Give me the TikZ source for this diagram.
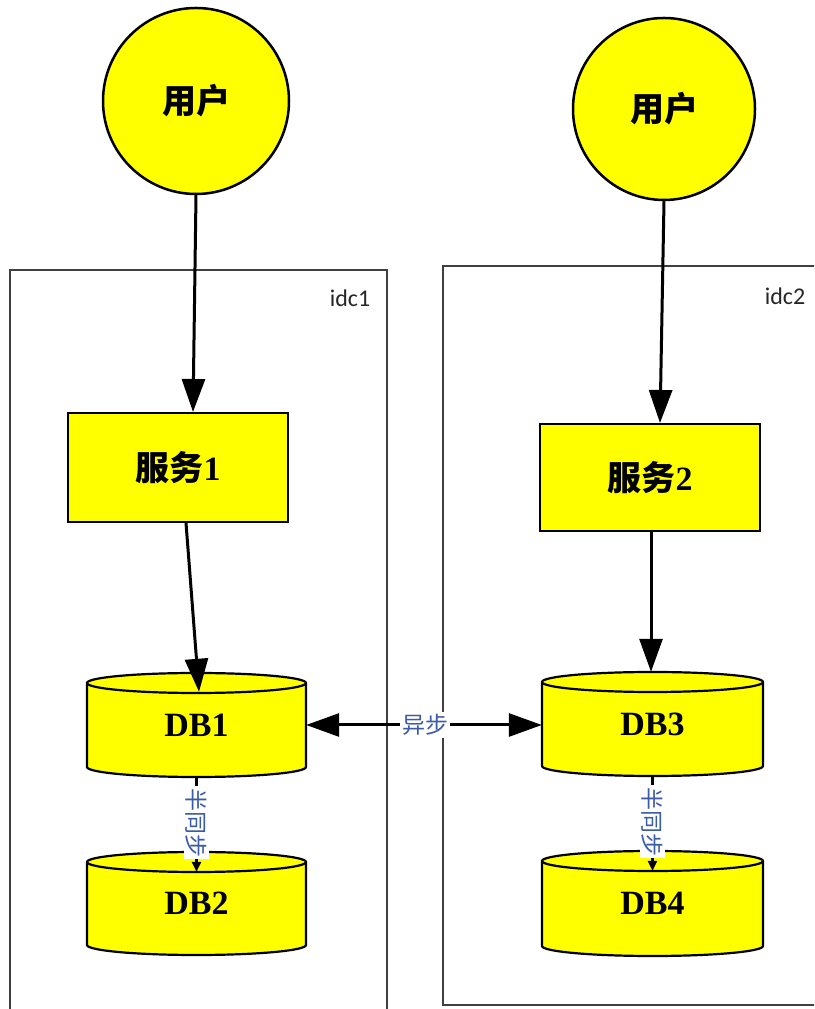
\documentclass[tikz,border=0pt]{standalone}
\usepackage{fontspec}
\setmainfont{Liberation Serif}
\newfontfamily\cjk{Noto Sans CJK SC}
\newfontfamily\lab{Carlito}
\usetikzlibrary{arrows.meta}
\definecolor{fillyel}{RGB}{255,255,0}
\definecolor{labblue}{RGB}{59,91,165}
\definecolor{framegray}{RGB}{64,64,64}

% database cylinder: name, centre x, centre y, width, height, label
\newcommand\dbcyl[6]{%
  \filldraw[cylline] (#2-#4/2,#3+#5/2-10) -- (#2-#4/2,#3-#5/2+10)
    arc[start angle=180,end angle=360,x radius=#4/2,y radius=10]
    -- (#2+#4/2,#3+#5/2-10)
    arc[start angle=0,end angle=180,x radius=#4/2,y radius=10] -- cycle;
  \draw[cylline] (#2-#4/2,#3+#5/2-10)
    arc[start angle=180,end angle=360,x radius=#4/2,y radius=10];
  \node[dbtext, minimum width=#4, minimum height=#5] (#1) at (#2,#3) {#6};
}

\begin{document}
\begin{tikzpicture}[x=1pt,y=1pt,
  usernode/.style={circle, draw, line width=2.5pt, fill=fillyel, inner sep=0pt,
    minimum size=#1, font=\cjk\bfseries\fontsize{34}{37}\selectfont},
  svcnode/.style={rectangle, draw, line width=2pt, fill=fillyel, inner sep=0pt,
    font=\bfseries\fontsize{34}{37}\selectfont},
  cylline/.style={draw=black, line width=2.2pt, fill=fillyel},
  dbtext/.style={inner sep=0pt, font=\bfseries\fontsize{34}{38}\selectfont},
  frame/.style={draw=framegray, line width=1.4pt},
  framelabel/.style={font=\lab\fontsize{24}{27}\selectfont, text=black!85},
  flow/.style={line width=3pt, -{Triangle[length=33pt,width=23pt]}},
  biflow/.style={line width=3pt, {Triangle[length=33pt,width=23pt]}-{Triangle[length=33pt,width=23pt]}},
  syncflow/.style={line width=2.5pt, -{Triangle[length=10pt,width=9pt]}},
  edgelabel/.style={fill=white, text=labblue, inner sep=2pt,
    font=\cjk\fontsize{23}{25}\selectfont}
]
\fill[white] (0,0) rectangle (814,1009);
\useasboundingbox (0,0) rectangle (814,1009);
\clip (0,0) rectangle (814,1009);

% data centre frames
\draw[frame] (10,-10) rectangle (387,739);
\node[framelabel] (idc1) at (350,711) {idc1};
\draw[frame] (443,4) rectangle (830,743);
\node[framelabel] (idc2) at (785,713) {idc2};

% users
\node[usernode=186pt] (u1) at (196,908) {用户};
\node[usernode=182pt] (u2) at (664,900) {用户};

% services
\node[svcnode, minimum width=220pt, minimum height=109pt] (s1) at (178,541.5) {{\cjk 服务}1};
\node[svcnode, minimum width=220pt, minimum height=107pt] (s2) at (650,531.5) {{\cjk 服务}2};

% databases
\dbcyl{db1}{196.5}{284}{219}{104}{DB1}
\dbcyl{db2}{196.5}{105.5}{219}{103}{DB2}
\dbcyl{db3}{652.5}{285}{221}{104}{DB3}
\dbcyl{db4}{652.5}{105.5}{221}{105}{DB4}

% request flow
\draw[flow] (u1.south) -- ([xshift=15pt]s1.north);
\draw[flow] ([xshift=8pt]s1.south) -- ([xshift=2.5pt,yshift=-19pt]db1.north);
\draw[flow] (u2.south) -- ([xshift=10pt]s2.north);
\draw[flow] ([xshift=1pt]s2.south) -- ([xshift=-1.5pt]db3.north);

% replication
\draw[biflow] (db1.east) -- (db1.east -| db3.west)
  node[edgelabel, midway, xshift=1pt] {异步};
\draw[syncflow] (db1.south) -- ([yshift=-20pt]db2.north)
  node[edgelabel, pos=0.48, rotate=-90] {半同步};
\draw[syncflow] (db3.south) -- ([yshift=-20pt]db4.north)
  node[edgelabel, pos=0.48, rotate=-90] {半同步};
\end{tikzpicture}
\end{document}
